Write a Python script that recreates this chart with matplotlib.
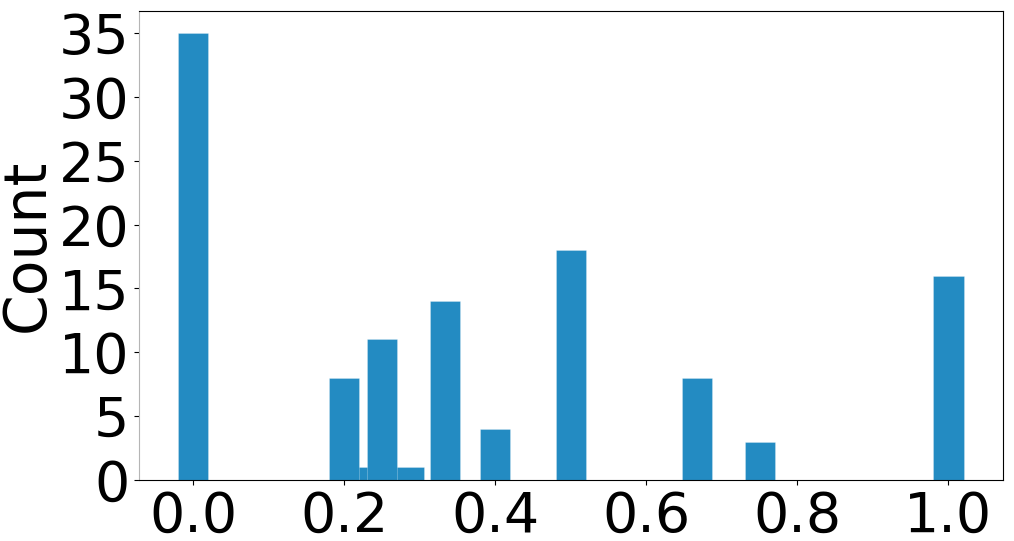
import numpy as np
import matplotlib
matplotlib.use("Agg")
import matplotlib.pyplot as plt

# ratio values and how often each occurs (the 1-count bars are drawn first,
# so the neighbouring bars sit on top of them as in the original)
values = [0.2222, 0.2857, 0.0, 0.2, 0.25, 0.3333, 0.4, 0.5, 0.6667, 0.75, 1.0]
counts = [1, 1, 35, 8, 11, 14, 4, 18, 8, 3, 16]

fig, ax = plt.subplots(figsize=(10.14, 5.41), dpi=100)
ax.bar(values, counts, width=0.04, color="#238bc2",
       edgecolor=(1, 1, 1, 0.45), linewidth=0.4)

ax.set_ylabel("Count", fontsize=42, labelpad=2)
ax.tick_params(axis="both", labelsize=40)
ax.set_yticks(np.arange(0, 36, 5))
ax.set_xticks([0.0, 0.2, 0.4, 0.6, 0.8, 1.0])
ax.spines["left"].set_color("#b5b5b5")

fig.subplots_adjust(left=0.137, right=0.989, top=0.98, bottom=0.113)
fig.savefig("out.png")
